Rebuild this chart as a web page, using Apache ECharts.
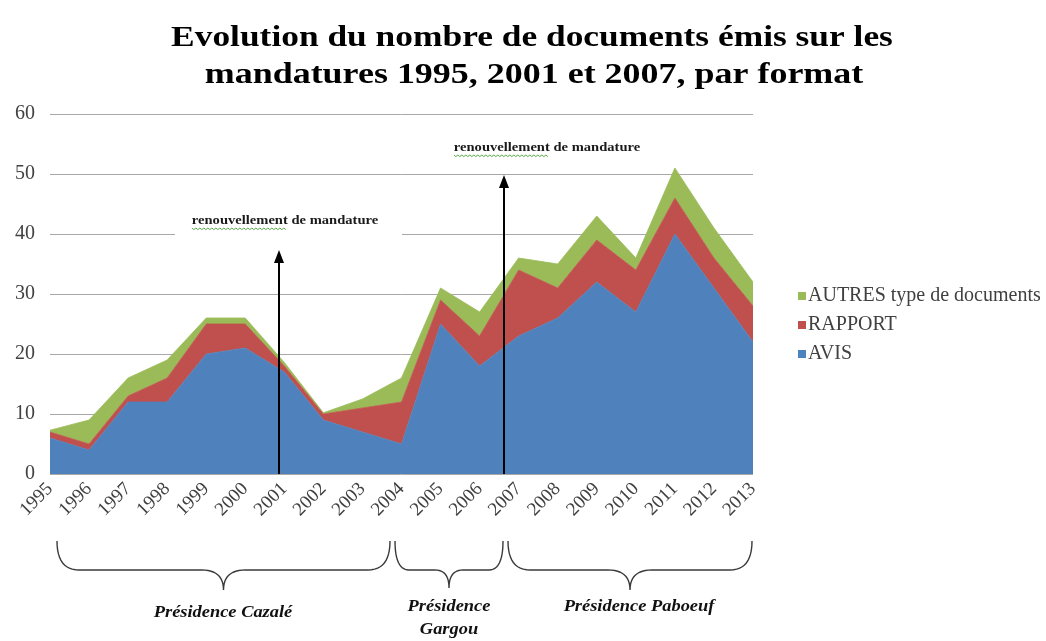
<!DOCTYPE html>
<html><head><meta charset="utf-8">
<script src="https://cdn.jsdelivr.net/npm/echarts@6/dist/echarts.min.js"></script>
<style>html,body{margin:0;padding:0;background:#fff}#c{width:1046px;height:641px}</style>
</head><body><div id="c"></div>
<script>
const years = ['1995','1996','1997','1998','1999','2000','2001','2002','2003','2004','2005','2006','2007','2008','2009','2010','2011','2012','2013'];
const avis    = [6, 4, 12, 12, 20, 21, 17, 9, 7, 5, 25, 18, 23, 26, 32, 27, 40, 31, 22];
const rapport = [1, 1, 1, 4, 5, 4, 1, 1, 4, 7, 4, 5, 11, 5, 7, 7, 6, 5, 6];
const autres  = [0.3, 4, 3, 3, 1, 1, 0.6, 0.2, 1.5, 4, 2, 4, 2, 4, 4, 2, 5, 5, 4];
const seriesNames = ['AVIS', 'RAPPORT', 'AUTRES type de documents'];
const titleLines = ['Evolution du nombre de documents émis sur les', 'mandatures 1995, 2001 et 2007, par format'];
const annotationText = 'renouvellement de mandature';
const presidencies = ['Présidence Cazalé', 'Présidence', 'Gargou', 'Présidence Paboeuf'];

const SERIF = '"Liberation Serif", "DejaVu Serif", serif';
const colors = ['#4F81BD', '#C0504D', '#9BBB59'];

function quad(p0, c, p1, n) {
  const pts = [];
  for (let i = 0; i <= n; i++) {
    const t = i / n, u = 1 - t;
    pts.push([u * u * p0[0] + 2 * u * t * c[0] + t * t * p1[0], u * u * p0[1] + 2 * u * t * c[1] + t * t * p1[1]]);
  }
  return pts;
}
function bracePoints(x0, x1, yTop, yMid, yBot, r) {
  const cx = (x0 + x1) / 2;
  return [].concat(
    quad([x0, yTop], [x0, yMid], [x0 + r, yMid], 12),
    quad([cx - r, yMid], [cx, yMid], [cx, yBot], 12),
    quad([cx, yBot], [cx, yMid], [cx + r, yMid], 12),
    quad([x1 - r, yMid], [x1, yMid], [x1, yTop], 12)
  );
}

function measure(txt, font) {
  const ctx = document.createElement('canvas').getContext('2d');
  ctx.font = font; return ctx.measureText(txt).width;
}

function squiggle(x0, x1, y) {
  const pts = []; let up = true;
  for (let x = x0; x <= x1; x += 2) { pts.push([x, y + (up ? 0 : 1.6)]); up = !up; }
  return pts;
}

function annotation(cx, cy, arrowX, arrowTip, withBox) {
  const font = 'bold 13px "Liberation Serif"';
  const sx = 1.12;
  const w = measure(annotationText, font) * sx;
  const wWord = measure('renouvellement', font) * sx;
  const x0 = cx - w / 2;
  const els = [];
  if (withBox) els.push({ type: 'rect', z: 9, shape: { x: 175, y: 205, width: 227, height: 40 }, style: { fill: '#fff' } });
  els.push({ type: 'text', z: 11, x: cx, y: cy, scaleX: sx, style: { text: annotationText, font: font, fill: '#1a1a1a', align: 'center', verticalAlign: 'middle' } });
  els.push({ type: 'polyline', z: 11, shape: { points: squiggle(x0, x0 + wWord, cy + 7) }, style: { stroke: '#5aa84a', lineWidth: 1, fill: null } });
  els.push({ type: 'line', z: 12, shape: { x1: arrowX, y1: 474, x2: arrowX, y2: arrowTip + 10 }, style: { stroke: '#000', lineWidth: 2 } });
  els.push({ type: 'polygon', z: 12, shape: { points: [[arrowX, arrowTip], [arrowX - 5, arrowTip + 13], [arrowX + 5, arrowTip + 13]] }, style: { fill: '#000' } });
  return els;
}

const braceStyle = { stroke: '#3a3a3a', lineWidth: 1.4, fill: null };
const labelFont = 'italic bold 16px "Liberation Serif"';
const titleFont = 'bold 29px "Liberation Serif"';
function label(x, y, t) {
  return { type: 'text', z: 10, x: x, y: y, scaleX: 1.15, style: { text: t, font: labelFont, fill: '#111', align: 'center', verticalAlign: 'middle' } };
}

const graphics = [].concat(
  [
    { type: 'text', z: 10, x: 532, y: 39, scaleX: 1.22, style: { text: titleLines[0], font: titleFont, fill: '#000', align: 'center', verticalAlign: 'middle' } },
    { type: 'text', z: 10, x: 534, y: 76, scaleX: 1.24, style: { text: titleLines[1], font: titleFont, fill: '#000', align: 'center', verticalAlign: 'middle' } }
  ],
  annotation(285, 221, 279, 250, true),
  annotation(547, 148, 504, 175, false),
  [
    { type: 'polyline', z: 10, shape: { points: bracePoints(57, 390, 541, 570, 590, 22) }, style: braceStyle },
    { type: 'polyline', z: 10, shape: { points: bracePoints(395, 503, 541, 570, 588, 14) }, style: braceStyle },
    { type: 'polyline', z: 10, shape: { points: bracePoints(508, 752, 541, 570, 590, 22) }, style: braceStyle },
    label(223, 613, presidencies[0]),
    label(449, 607, presidencies[1]),
    label(449, 630, presidencies[2]),
    label(639, 607, presidencies[3])
  ]
);

const dataBySeries = [avis, rapport, autres];
const chart = echarts.init(document.getElementById('c'), null, { renderer: 'canvas' });
chart.setOption({
  animation: false,
  backgroundColor: '#fff',
  legend: {
    data: [seriesNames[2], seriesNames[1], seriesNames[0]],
    orient: 'vertical', left: 793, top: 281, icon: 'rect', itemWidth: 8, itemHeight: 8, itemGap: 9,
    textStyle: { fontFamily: SERIF, fontSize: 20, color: '#404040', padding: [0, 0, 0, -3] }
  },
  grid: { left: 50, right: 293, top: 114, bottom: 167, containLabel: false },
  xAxis: {
    type: 'category', data: years, boundaryGap: false,
    axisLine: { show: false }, axisTick: { show: false },
    axisLabel: { rotate: 45, margin: 12, fontFamily: SERIF, fontSize: 19, color: '#404040', interval: 0 }
  },
  yAxis: {
    type: 'value', min: 0, max: 60, interval: 10,
    axisLine: { show: false }, axisTick: { show: false },
    axisLabel: { margin: 15, fontFamily: SERIF, fontSize: 20, color: '#404040' },
    splitLine: { lineStyle: { color: '#a8a8a8', width: 1 } }
  },
  series: seriesNames.map((n, i) => ({
    name: n, type: 'line', stack: 'total', data: dataBySeries[i],
    symbol: 'none', smooth: false,
    itemStyle: { color: colors[i] },
    lineStyle: { width: 0.8, color: colors[i] },
    areaStyle: { color: colors[i], opacity: 1 },
    z: 2
  })),
  graphic: graphics
});
</script>
</body></html>
